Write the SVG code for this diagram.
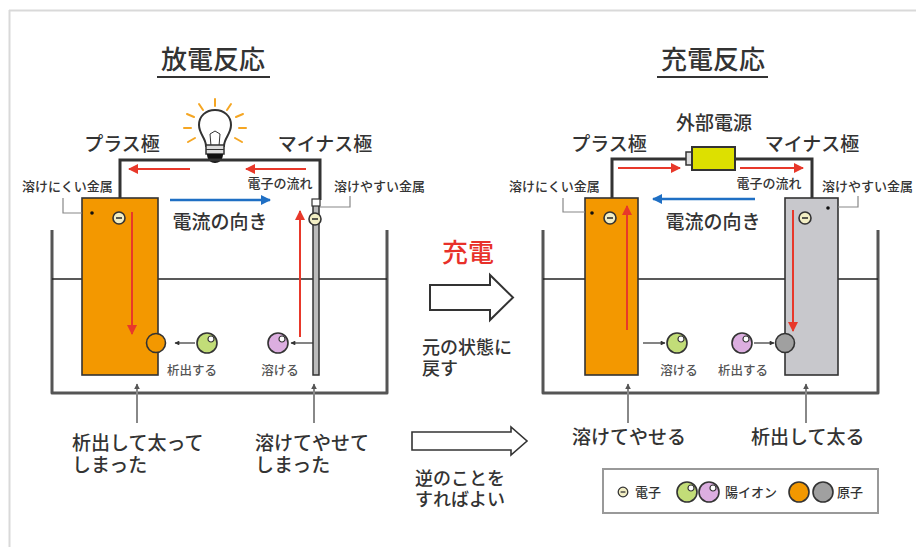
<svg xmlns="http://www.w3.org/2000/svg" width="916" height="547" viewBox="0 0 916 547">
<style>
  text { font-family: "Noto Sans CJK JP", "Noto Sans", sans-serif; fill: #333; font-weight: 500; }
  .title { font-size: 26px; font-weight: bold; text-anchor: middle; }
  .pole { font-size: 19px; text-anchor: middle; }
  .cur { font-size: 19px; text-anchor: middle; }
  .small { font-size: 13px; }
  .flow { font-size: 13px; text-anchor: middle; }
  .ionlbl { font-size: 12.5px; text-anchor: middle; fill: #555; }
  .big { font-size: 19px; }
  .mid { font-size: 18px; }
  .wire { fill: none; stroke: #333; stroke-width: 3; }
  .beaker { fill: none; stroke: #555; stroke-width: 3; stroke-linejoin: round; }
  .liquid { stroke: #222; stroke-width: 1.5; }
  .callout { fill: none; stroke: #888; stroke-width: 1.2; }
  .red { stroke: #e8382a; stroke-width: 2; fill: none; }
  .blue { stroke: #1f6fc4; stroke-width: 2.5; fill: none; }
  .ptr { stroke: #888; stroke-width: 2; fill: none; }
  .tiny { stroke: #333; stroke-width: 1.2; fill: none; }
  .elec { fill: #f2eec4; stroke: #333; stroke-width: 1.6; }
  .green { fill: #c2dd78; stroke: #333; stroke-width: 1.6; }
  .purple { fill: #dcaee0; stroke: #333; stroke-width: 1.6; }
  .hl { fill: #fff; stroke: #333; stroke-width: 1.2; }
  .orange { fill: #f39800; stroke: #333; stroke-width: 1.6; }
  .grey { fill: #a0a0a0; stroke: #333; stroke-width: 1.6; }
  .hollow { fill: #fff; stroke: #333; stroke-width: 2; stroke-linejoin: miter; }
</style>
<defs>
  <marker id="redHead" viewBox="0 0 10 10" refX="9" refY="5" markerWidth="6" markerHeight="5" orient="auto">
    <path d="M0,0 L10,5 L0,10 z" fill="#e8382a"/>
  </marker>
  <marker id="blueHead" viewBox="0 0 10 10" refX="9" refY="5" markerWidth="5" markerHeight="4" orient="auto">
    <path d="M0,0 L10,5 L0,10 z" fill="#1f6fc4"/>
  </marker>
  <marker id="blackHead" viewBox="0 0 10 10" refX="9" refY="5" markerWidth="5" markerHeight="4" orient="auto">
    <path d="M0,0 L10,5 L0,10 z" fill="#333"/>
  </marker>
  <marker id="greyHead" viewBox="0 0 10 10" refX="9" refY="5" markerWidth="3" markerHeight="3" orient="auto">
    <path d="M0,0 L10,5 L0,10 z" fill="#555"/>
  </marker>
  <g id="electron">
    <circle r="6" class="elec"/>
    <line x1="-3" y1="0" x2="3" y2="0" stroke="#333" stroke-width="1.6"/>
  </g>
  <g id="ionGreen">
    <circle r="10" class="green"/>
    <circle cx="4" cy="-4" r="3" class="hl"/>
  </g>
  <g id="ionPurple">
    <circle r="10" class="purple"/>
    <circle cx="4" cy="-4" r="3" class="hl"/>
  </g>
</defs>

<!-- frame -->
<rect x="0" y="0" width="916" height="547" fill="#fff"/>
<line x1="9" y1="10.5" x2="916" y2="10.5" stroke="#d9d9d9" stroke-width="2"/>
<line x1="9.5" y1="10" x2="9.5" y2="547" stroke="#d9d9d9" stroke-width="2"/>

<!-- ===== discharge ===== -->
<g id="discharge-title">
  <text x="213" y="69" class="title" style="font-weight:500">放電反応</text>
  <line x1="157" y1="77" x2="270" y2="77" stroke="#333" stroke-width="2"/>
</g>

<g id="discharge-cell">
  <path class="beaker" d="M52,230 V393 H387 V230"/>
  <line class="liquid" x1="52" y1="279" x2="387" y2="279"/>
</g>

<g id="bulb">
  <g stroke="#f5a623" stroke-width="2" stroke-linecap="round">
    <line x1="215" y1="99" x2="215" y2="106"/>
    <line x1="199" y1="104" x2="203" y2="110"/>
    <line x1="231" y1="104" x2="227" y2="110"/>
    <line x1="187" y1="114" x2="194" y2="117"/>
    <line x1="243" y1="114" x2="236" y2="117"/>
    <line x1="184" y1="128" x2="191" y2="128"/>
    <line x1="246" y1="128" x2="239" y2="128"/>
    <line x1="188" y1="142" x2="195" y2="138"/>
    <line x1="242" y1="142" x2="235" y2="138"/>
  </g>
  <path d="M206,146 C206,138 199,134 199,125 C199,116 206,110 215,110 C224,110 231,116 231,125 C231,134 224,138 224,146 Z" fill="#fff" stroke="#333" stroke-width="2"/>
  <path d="M211,146 L210,134 L215,131 L220,134 L219,146" fill="none" stroke="#333" stroke-width="1"/>
  <rect x="206" y="145" width="18" height="9" fill="#ddd" stroke="#333" stroke-width="1.5"/>
  <line x1="206" y1="149.5" x2="224" y2="149.5" stroke="#333" stroke-width="1"/>
  <path d="M207,154 H223 C223,160 219,163 215,163 C211,163 207,160 207,154 Z" fill="#111"/>
</g>

<g id="discharge-wires">
  <path class="wire" d="M120,198 V160 H320 V200"/>
</g>

<g id="discharge-plus">
  <text x="122" y="151" class="pole">プラス極</text>
  <text x="22" y="191" class="small">溶けにくい金属</text>
  <rect x="82" y="198" width="76" height="177" class="orange"/>
  <path class="callout" d="M63,198 V213 H82"/>
  <circle cx="92" cy="213" r="1.8" fill="#111"/>
  <use href="#electron" x="119" y="218"/>
  <line class="red" x1="132" y1="212" x2="132" y2="334" marker-end="url(#redHead)"/>
  <circle cx="156" cy="343" r="9.5" class="orange"/>
</g>

<g id="discharge-minus">
  <text x="325" y="151" class="pole">マイナス極</text>
  <text x="334" y="191" class="small">溶けやすい金属</text>
  <rect x="313" y="203" width="6" height="172" fill="#bbb" stroke="#333" stroke-width="1.5"/>
  <rect x="312" y="199" width="8" height="7" fill="#fff" stroke="#333" stroke-width="1.2"/>
  <path class="callout" d="M350,196 V207 H320"/>
  <use href="#electron" x="315" y="219"/>
  <line class="red" x1="300" y1="337" x2="300" y2="211" marker-end="url(#redHead)"/>
</g>

<g id="discharge-flow">
  <line class="red" x1="190" y1="169" x2="129" y2="169" marker-end="url(#redHead)"/>
  <line class="red" x1="306" y1="169" x2="246" y2="169" marker-end="url(#redHead)"/>
  <text x="280" y="188" class="flow">電子の流れ</text>
  <line class="blue" x1="170" y1="200" x2="270" y2="200" marker-end="url(#blueHead)"/>
  <text x="220" y="229" class="cur">電流の向き</text>
</g>

<g id="discharge-ions">
  <use href="#ionGreen" x="207" y="343"/>
  <line class="tiny" x1="195" y1="343" x2="175" y2="343" marker-end="url(#blackHead)"/>
  <text x="192" y="375" class="ionlbl">析出する</text>
  <use href="#ionPurple" x="278" y="343"/>
  <line class="tiny" x1="313" y1="343" x2="291" y2="343" marker-end="url(#blackHead)"/>
  <text x="280" y="375" class="ionlbl">溶ける</text>
</g>

<g id="discharge-notes">
  <line class="ptr" x1="137" y1="423" x2="137" y2="384" marker-end="url(#greyHead)"/>
  <line class="ptr" x1="314" y1="423" x2="314" y2="384" marker-end="url(#greyHead)"/>
  <text class="big"><tspan x="72" y="450">析出して太って</tspan><tspan x="72" y="472">しまった</tspan></text>
  <text class="big"><tspan x="255" y="450">溶けてやせて</tspan><tspan x="255" y="472">しまった</tspan></text>
</g>

<!-- ===== middle ===== -->
<g id="middle">
  <text x="468" y="262" font-size="26" text-anchor="middle" style="fill:#e8302a">充電</text>
  <path class="hollow" d="M430,285 H490 V275 L513,297.5 L490,320 V310 H430 Z"/>
  <text class="mid"><tspan x="422" y="354">元の状態に</tspan><tspan x="422" y="375">戻す</tspan></text>
  <path class="hollow" d="M412,432 H511 V427 L527,441 L511,455 V450 H412 Z" style="stroke-width:1.6"/>
  <text class="mid"><tspan x="415" y="485">逆のことを</tspan><tspan x="415" y="506">すればよい</tspan></text>
</g>

<!-- ===== charge ===== -->
<g id="charge-title">
  <text x="713" y="69" class="title" style="font-weight:500">充電反応</text>
  <line x1="657" y1="77" x2="768" y2="77" stroke="#333" stroke-width="2"/>
</g>

<g id="charge-cell">
  <path class="beaker" d="M543,230 V393 H878 V230"/>
  <line class="liquid" x1="543" y1="279" x2="878" y2="279"/>
</g>

<g id="charge-wires">
  <path class="wire" d="M612,198 V159 H686 M735,159 H812 V198"/>
</g>

<g id="power-source">
  <text x="714" y="130" class="pole">外部電源</text>
  <rect x="686" y="152" width="7" height="13" fill="#ddd" stroke="#333" stroke-width="1.5"/>
  <rect x="692" y="147" width="43" height="23" fill="#dde000" stroke="#333" stroke-width="2"/>
</g>

<g id="charge-plus">
  <text x="609" y="151" class="pole">プラス極</text>
  <text x="509" y="191" class="small">溶けにくい金属</text>
  <rect x="585" y="198" width="53" height="177" class="orange"/>
  <path class="callout" d="M563,198 V212 H585"/>
  <circle cx="592" cy="213" r="1.8" fill="#111"/>
  <use href="#electron" x="610" y="218"/>
  <line class="red" x1="627" y1="330" x2="627" y2="206" marker-end="url(#redHead)"/>
</g>

<g id="charge-minus">
  <text x="812" y="151" class="pole">マイナス極</text>
  <text x="822" y="191" class="small">溶けやすい金属</text>
  <rect x="785" y="198" width="53" height="177" fill="#c8c8cc" stroke="#333" stroke-width="1.6"/>
  <path class="callout" d="M858,196 V207 H838"/>
  <circle cx="828" cy="208" r="1.8" fill="#111"/>
  <use href="#electron" x="805" y="218"/>
  <line class="red" x1="793" y1="210" x2="793" y2="331" marker-end="url(#redHead)"/>
  <circle cx="785" cy="343" r="9.5" class="grey"/>
</g>

<g id="charge-flow">
  <line class="red" x1="618" y1="168" x2="680" y2="168" marker-end="url(#redHead)"/>
  <line class="red" x1="740" y1="168" x2="803" y2="168" marker-end="url(#redHead)"/>
  <text x="769" y="188" class="flow">電子の流れ</text>
  <line class="blue" x1="755" y1="199" x2="653" y2="199" marker-end="url(#blueHead)"/>
  <text x="713" y="229" class="cur">電流の向き</text>
</g>

<g id="charge-ions">
  <line class="tiny" x1="643" y1="343" x2="665" y2="343" marker-end="url(#blackHead)"/>
  <use href="#ionGreen" x="677" y="343"/>
  <text x="679" y="375" class="ionlbl">溶ける</text>
  <use href="#ionPurple" x="742" y="343"/>
  <line class="tiny" x1="754" y1="343" x2="774" y2="343" marker-end="url(#blackHead)"/>
  <text x="743" y="375" class="ionlbl">析出する</text>
</g>

<g id="charge-notes">
  <line class="ptr" x1="628" y1="423" x2="628" y2="384" marker-end="url(#greyHead)"/>
  <line class="ptr" x1="806" y1="423" x2="806" y2="384" marker-end="url(#greyHead)"/>
  <text x="572" y="444" class="big">溶けてやせる</text>
  <text x="751" y="444" class="big">析出して太る</text>
</g>

<g id="legend">
  <rect x="603" y="469" width="275" height="44" fill="#fff" stroke="#999" stroke-width="2"/>
  <g transform="translate(623,492) scale(0.8)">
    <circle r="6" class="elec"/>
    <line x1="-3" y1="0" x2="3" y2="0" stroke="#333" stroke-width="1.6"/>
  </g>
  <text x="635" y="497" class="small">電子</text>
  <use href="#ionGreen" x="687" y="492"/>
  <use href="#ionPurple" x="709" y="492"/>
  <text x="725" y="497" class="small">陽イオン</text>
  <circle cx="799" cy="492" r="10" class="orange"/>
  <circle cx="823" cy="492" r="10" class="grey"/>
  <text x="837" y="497" class="small">原子</text>
</g>
</svg>
